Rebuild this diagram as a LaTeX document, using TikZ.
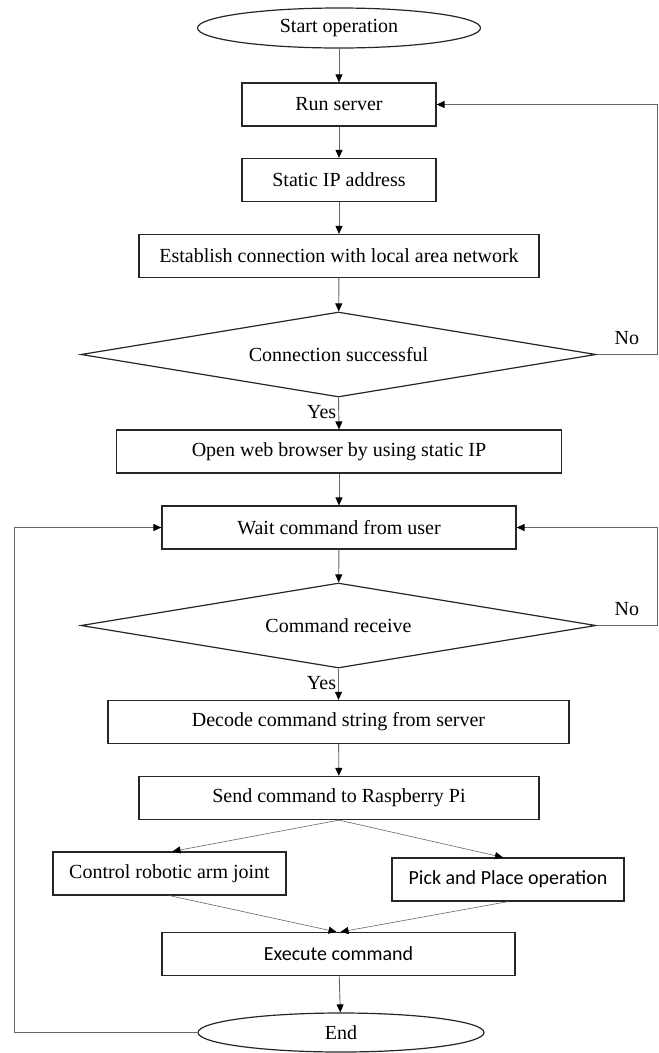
\documentclass[tikz,border=0pt]{standalone}
\usepackage{fontspec}
\setmainfont{Liberation Serif}
\newfontfamily\calibrifont{Carlito}
\usepackage{tikz}
\usetikzlibrary{positioning, arrows.meta, shapes.geometric}

\begin{document}
\begin{tikzpicture}
            [x=1pt, y=-1pt, font=\fontsize{20}{24}\selectfont,
             box/.style={rectangle, draw=black!85, line width=1.2pt, minimum height=43pt, inner sep=0pt},
             term/.style={ellipse, draw=black!85, line width=1.2pt, minimum height=40pt, inner sep=0pt},
             decision/.style={diamond, aspect=6, draw=black!85, line width=1.2pt, minimum width=515pt, minimum height=85pt, inner sep=0pt},
             flow/.style={draw=black!60, line width=0.9pt, ->},
             >={Triangle[length=8pt, width=7pt, color=black]}]
            \useasboundingbox (0,0) rectangle (659,1053);

            \node[term, minimum width=283pt] (start) at (339,28) {Start operation};
            \node[box, minimum width=194pt] (run) at (339,104.5) {Run server};
            \node[box, minimum width=194pt] (static) at (339,180) {Static IP address};
            \node[box, minimum width=400pt] (lan) at (339,256) {Establish connection with local area network};
            \node[decision] (conn) at (338.5,354.5) {Connection successful};
            \node[box, minimum width=445pt] (browser) at (339,451.5) {Open web browser by using static IP};
            \node[box, minimum width=354pt] (wait) at (339,527.5) {Wait command from user};
            \node[decision] (recv) at (338.5,625.5) {Command receive};
            \node[box, minimum width=461pt] (decode) at (338.5,722) {Decode command string from server};
            \node[box, minimum width=400pt] (send) at (339,798) {Send command to Raspberry Pi};
            \node[box, minimum width=233pt] (arm) at (169.5,873.5) {Control robotic arm joint};
            \node[box, minimum width=232pt, font=\calibrifont\fontsize{20}{24}\selectfont] (pick) at (508,879.5) {Pick and Place operation};
            \node[box, minimum width=353pt, font=\calibrifont\fontsize{20}{24}\selectfont] (exec) at (338.5,954) {Execute command};
            \node[term, minimum width=286pt, minimum height=39pt] (stop) at (341,1032.5) {End};

            \coordinate (noA) at (657,354.5);
            \coordinate (noB) at (657,625.5);
            \coordinate (back) at (14,1032.5);

            \draw[flow] (start) -- (run);
            \draw[flow] (run) -- (static);
            \draw[flow] (static) -- (lan);
            \draw[flow] (lan) -- (conn);
            \draw[flow] (conn.east) -- node[above, pos=0.5, yshift=6pt] {No} (noA) |- (run.east);
            \draw[flow] (conn.south) -- node[left, pos=0.45, inner sep=2pt] {Yes} (browser.north);
            \draw[flow] (browser) -- (wait);
            \draw[flow] (wait) -- (recv);
            \draw[flow] (recv.east) -- node[above, pos=0.5, yshift=6pt] {No} (noB) |- (wait.east);
            \draw[flow] (recv.south) -- node[left, pos=0.45, inner sep=2pt] {Yes} (decode.north);
            \draw[flow] (decode) -- (send);
            \draw[flow, line width=0.6pt] (send.south) -- ([xshift=3pt]arm.north);
            \draw[flow, line width=0.6pt] (send.south) -- ([xshift=-5pt]pick.north);
            \draw[flow, line width=0.6pt] (arm.south) -- ([xshift=-2pt]exec.north);
            \draw[flow, line width=0.6pt] (pick.south) -- ([xshift=2pt]exec.north);
            \draw[flow] (exec) -- (stop);
            \draw[flow] (stop.west) -- (back) |- (wait.west);
\end{tikzpicture}
\end{document}
